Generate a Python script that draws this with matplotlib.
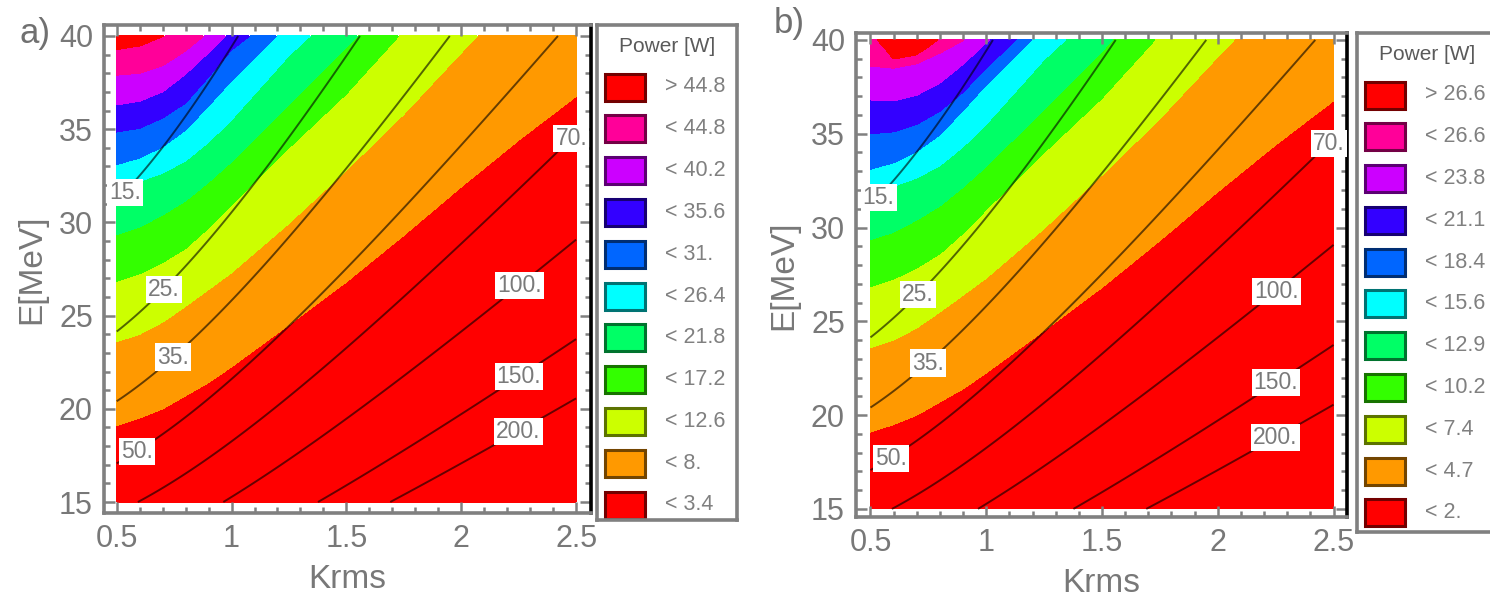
import numpy as np
import matplotlib.pyplot as plt
from matplotlib.patches import Rectangle

plt.rcParams['font.family'] = ['Liberation Sans', 'DejaVu Sans']

k_nodes = [0.5, 0.6, 0.7, 0.8, 0.9, 1.0, 1.25, 1.5, 1.75, 2.0, 2.25, 2.5]

# E [MeV] of each colour boundary at k_nodes, lowest power level first (panel a)
edges_a = [
    [19.1, 19.5, 20.0, 20.7, 21.4, 22.25, 24.5, 26.8, 29.3, 31.9, 34.4, 36.75],
    [23.6, 24.0, 24.65, 25.5, 26.4, 27.3, 29.95, 32.8, 35.8, 39.1, 42.3, 45.5],
    [26.85, 27.25, 27.85, 28.6, 29.7, 30.95, 34.0, 36.9, 40.3, 43.7, 47.1, 50.5],
    [29.35, 29.75, 30.4, 31.15, 32.15, 33.25, 36.3, 39.4, 42.6, 45.8, 49.0, 52.2],
    [31.9, 32.2, 32.65, 33.3, 34.3, 35.5, 38.95, 41.8, 44.8, 47.8, 50.8, 53.8],
    [33.1, 33.45, 34.05, 34.95, 36.25, 37.6, 40.7, 43.7, 46.7, 49.7, 52.7, 55.7],
    [34.85, 35.05, 35.6, 36.4, 37.8, 39.25, 41.6, 44.6, 47.6, 50.6, 53.6, 56.6],
    [36.3, 36.5, 37.0, 37.95, 39.1, 40.3, 42.9, 45.8, 48.8, 51.8, 54.8, 57.8],
    [37.9, 38.0, 38.4, 39.2, 40.2, 41.3, 43.9, 46.9, 49.9, 52.9, 55.9, 58.9],
    [39.25, 39.45, 39.95, 40.6, 41.4, 42.3, 44.9, 47.9, 50.9, 53.9, 56.9, 59.9],
]
# panel b: lower boundaries as in a, top-left ones differ
edges_b = edges_a[:6] + [
    [35.0, 35.1, 35.5, 36.2, 37.2, 38.5, 41.4, 44.4, 47.4, 50.4, 53.4, 56.4],
    [36.8, 36.75, 37.05, 37.7, 38.7, 39.85, 42.6, 45.6, 48.6, 51.6, 54.6, 57.6],
    [38.6, 38.5, 38.75, 39.3, 39.97, 40.8, 43.6, 46.6, 49.6, 52.6, 55.6, 58.6],
    [40.4, 38.95, 39.2, 40.05, 40.8, 41.6, 44.4, 47.4, 50.4, 53.4, 56.4, 59.4],
]

levels_a = [3.4, 8.0, 12.6, 17.2, 21.8, 26.4, 31.0, 35.6, 40.2, 44.8]
levels_b = [2.0, 4.7, 7.4, 10.2, 12.9, 15.6, 18.4, 21.1, 23.8, 26.6]

band_colors = ['#FF0000', '#FF9900', '#CCFF00', '#33FF00', '#00FF66', '#00FFFF',
               '#0066FF', '#3300FF', '#CC00FF', '#FF0099', '#FF0000']

# overlay: resonance wavelength ~ (1+K^2)/E^2
lam_const = 11660.0
lam_levels = [15, 25, 35, 50, 70, 100, 150, 200]
lam_label_pos = [(0.528, 31.7), (0.694, 26.55), (0.745, 22.8), (0.59, 17.65),
                 (2.46, 34.75), (2.25, 26.65), (2.25, 21.75), (2.25, 18.75)]


def num(v):
    return '%d.' % v if float(v).is_integer() else '%g' % v


def power_field(edges, levels, kk, ee):
    lev = np.asarray(levels)
    step = lev[1] - lev[0]
    out = np.empty((ee.size, kk.size))
    for j, k in enumerate(kk):
        h = np.array([np.interp(k, k_nodes, row) for row in edges])
        xp = np.concatenate(([h[0] - 60], h, [h[-1] + 60]))
        fp = np.concatenate(([lev[0] - 10 * step], lev, [lev[-1] + 10 * step]))
        out[:, j] = np.interp(ee, xp, fp)
    return out


kk = np.linspace(0.5, 2.5, 401)
ee = np.linspace(15, 40, 401)
KK, EE = np.meshgrid(kk, ee)
lam = lam_const * (1 + KK**2) / EE**2

fig = plt.figure(figsize=(14.9, 5.98), dpi=100)
W, H = 1490.0, 598.0
gray = '#808080'


def panel(frame, lims, edges, levels, tag, tagpos, legframe):
    x0, y0, x1, y1 = frame
    ax = fig.add_axes([x0 / W, 1 - y1 / H, (x1 - x0) / W, (y1 - y0) / H])
    P = power_field(edges, levels, kk, ee)
    step = levels[1] - levels[0]
    ax.contourf(kk, ee, P, levels=[levels[0] - 20 * step] + list(levels) + [levels[-1] + 20 * step],
                colors=band_colors)
    cs = ax.contour(kk, ee, lam, levels=lam_levels, colors='k', linewidths=1.4, alpha=0.6)
    txts = ax.clabel(cs, inline=False, fmt={l: num(l) for l in lam_levels},
                     manual=lam_label_pos, fontsize=16.5)
    for t in txts:
        t.set_rotation(0)
        t.set_color('#7a7a7a')
        t.set_alpha(1)
        t.set_bbox(dict(facecolor='white', edgecolor='none', pad=1.5))
        t.set_clip_on(False)
    ax.set_xlim(lims[0], lims[1])
    ax.set_ylim(lims[2], lims[3])
    ax.set_xticks([0.5, 1, 1.5, 2, 2.5])
    ax.set_xticklabels(['0.5', '1', '1.5', '2', '2.5'])
    ax.set_yticks([15, 20, 25, 30, 35, 40])
    ax.set_xticks(np.arange(0.5, 2.55, 0.1), minor=True)
    ax.set_yticks(np.arange(15, 40.5, 1), minor=True)
    ax.tick_params(which='both', direction='in', top=True, right=True, color=gray,
                   width=1.8, labelcolor='#787878', labelsize=22)
    ax.tick_params(which='major', length=8, pad=8)
    ax.tick_params(which='minor', length=4.5)
    for s in ax.spines.values():
        s.set_color(gray)
        s.set_linewidth(2.6)
    ax.spines['right'].set_color('black')
    ax.set_xlabel('Krms', fontsize=24, color='#787878', va='center')
    ax.xaxis.set_label_coords(0.5, -0.137)
    ax.set_ylabel('E[MeV]', fontsize=24, color='#787878', va='center', ha='center')
    ax.yaxis.set_label_coords(-0.148, 0.5)
    fig.text(tagpos[0] / W, 1 - tagpos[1] / H, tag, fontsize=25, color='#707070',
             ha='center', va='center')

    # legend box
    lx0, ly0, lx1, ly1 = legframe
    lg = fig.add_axes([lx0 / W, 1 - ly1 / H, (lx1 - lx0) / W, (ly1 - ly0) / H])
    lg.set_xlim(0, lx1 - lx0)
    lg.set_ylim(ly1 - ly0, 0)
    lg.set_xticks([])
    lg.set_yticks([])
    for s in lg.spines.values():
        s.set_color(gray)
        s.set_linewidth(2.6)
    lg.text(70, 21, 'Power [W]', fontsize=15, color='#5a5a5a', ha='center', va='center')
    names = ['> ' + num(levels[-1])] + ['< ' + num(v) for v in levels[::-1]]
    cols = band_colors[::-1]
    for i, (nm, c) in enumerate(zip(names, cols)):
        yc = 62 + i * 41.8
        rgb = np.array([int(c[1:3], 16), int(c[3:5], 16), int(c[5:7], 16)]) / 255.0
        lg.add_patch(Rectangle((8, yc - 13.5), 40, 27, facecolor=c,
                               edgecolor=rgb * 0.45, linewidth=2.2))
        lg.text(68, yc, nm, fontsize=15.5, color='#808080', ha='left', va='center')
    return ax


panel((104, 25, 591, 513), (0.4447, 2.565, 14.41, 40.59), edges_a, levels_a,
      'a)', (35, 34), (597, 25, 737, 520))
panel((856, 33, 1347, 517), (0.4374, 2.558, 14.57, 40.37), edges_b, levels_b,
      'b)', (789, 24), (1357, 33, 1500, 532))

fig.savefig('out.png', dpi=100)
